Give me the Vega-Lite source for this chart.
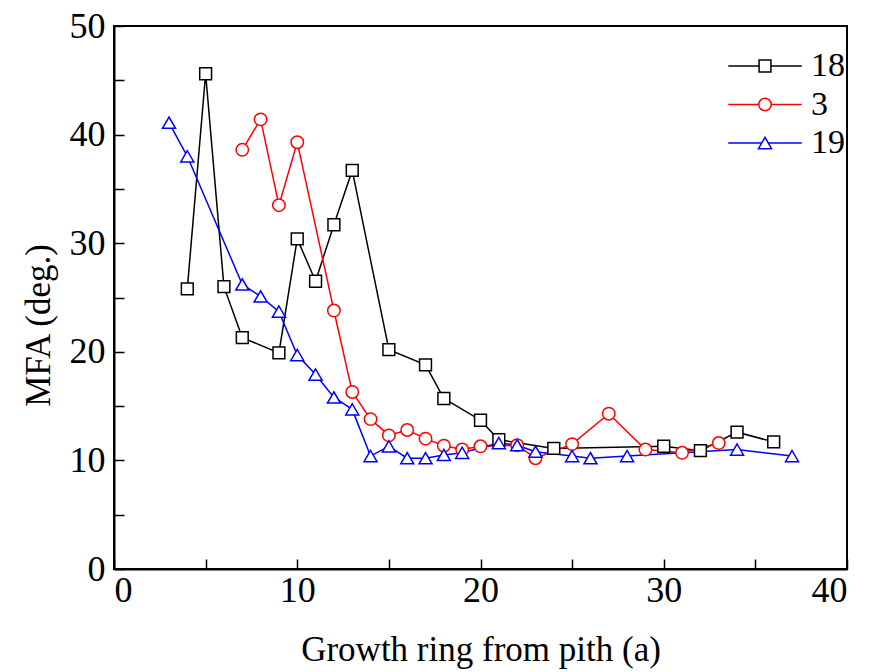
{
  "$schema": "https://vega.github.io/schema/vega-lite/v6.json",
  "autosize": "none",
  "width": 733,
  "height": 543,
  "padding": {"left": 114, "top": 26, "right": 34, "bottom": 103},
  "background": "white",
  "data": {"values": [
    {"s":"18","x":4,"y":25.8},{"s":"18","x":5,"y":45.6},{"s":"18","x":6,"y":26.0},{"s":"18","x":7,"y":21.3},{"s":"18","x":9,"y":19.9},{"s":"18","x":10,"y":30.4},{"s":"18","x":11,"y":26.5},{"s":"18","x":12,"y":31.7},{"s":"18","x":13,"y":36.7},{"s":"18","x":15,"y":20.2},{"s":"18","x":17,"y":18.8},{"s":"18","x":18,"y":15.7},{"s":"18","x":20,"y":13.7},{"s":"18","x":21,"y":11.9},{"s":"18","x":24,"y":11.1},{"s":"18","x":30,"y":11.3},{"s":"18","x":32,"y":10.9},{"s":"18","x":34,"y":12.6},{"s":"18","x":36,"y":11.7},
    {"s":"3","x":7,"y":38.6},{"s":"3","x":8,"y":41.4},{"s":"3","x":9,"y":33.5},{"s":"3","x":10,"y":39.3},{"s":"3","x":12,"y":23.8},{"s":"3","x":13,"y":16.3},{"s":"3","x":14,"y":13.8},{"s":"3","x":15,"y":12.3},{"s":"3","x":16,"y":12.8},{"s":"3","x":17,"y":12.0},{"s":"3","x":18,"y":11.35},{"s":"3","x":19,"y":11.0},{"s":"3","x":20,"y":11.3},{"s":"3","x":22,"y":11.4},{"s":"3","x":23,"y":10.2},{"s":"3","x":25,"y":11.5},{"s":"3","x":27,"y":14.3},{"s":"3","x":29,"y":11.0},{"s":"3","x":31,"y":10.7},{"s":"3","x":33,"y":11.6},
    {"s":"19","x":3,"y":41.1},{"s":"19","x":4,"y":38.0},{"s":"19","x":7,"y":26.2},{"s":"19","x":8,"y":25.1},{"s":"19","x":9,"y":23.7},{"s":"19","x":10,"y":19.7},{"s":"19","x":11,"y":17.9},{"s":"19","x":12,"y":15.8},{"s":"19","x":13,"y":14.7},{"s":"19","x":14,"y":10.4},{"s":"19","x":15,"y":11.3},{"s":"19","x":16,"y":10.2},{"s":"19","x":17,"y":10.2},{"s":"19","x":18,"y":10.5},{"s":"19","x":19,"y":10.7},{"s":"19","x":21,"y":11.6},{"s":"19","x":22,"y":11.4},{"s":"19","x":23,"y":10.8},{"s":"19","x":25,"y":10.4},{"s":"19","x":26,"y":10.2},{"s":"19","x":28,"y":10.4},{"s":"19","x":34,"y":11.0},{"s":"19","x":37,"y":10.4}
  ]},
  "layer": [
    {
      "mark": {"type": "line", "strokeWidth": 1.5},
      "encoding": {
        "x": {"field": "x", "type": "quantitative", "scale": {"domain": [0, 40], "nice": false},
              "axis": {"orient": "bottom", "title": "Growth ring from pith (a)", "values": [0,5,10,15,20,25,30,35,40],
                       "labelExpr": "datum.value % 10 === 0 ? datum.label : ''", "tickSize": -10, "labelPadding": 14,
                       "titleY": 91, "titleBaseline": "alphabetic"}},
        "y": {"field": "y", "type": "quantitative", "scale": {"domain": [0, 50], "nice": false},
              "axis": {"orient": "left", "title": "MFA (deg.)", "values": [0,5,10,15,20,25,30,35,40,45,50],
                       "labelExpr": "datum.value % 10 === 0 ? datum.label : ''", "tickSize": -10, "labelPadding": 19,
                       "titleX": -76, "titleY": 299, "titleAlign": "center", "titleBaseline": "middle"}},
        "color": {"field": "s", "type": "nominal", "scale": {"domain": ["18","3","19"], "range": ["black","red","blue"]},
                  "legend": {"legendX": 634, "legendY": 23, "symbolType": "M-6,0H6", "symbolSize": 150, "symbolStrokeWidth": 1.5,
                             "labelOffset": 29, "rowPadding": 4.5}}
      }
    },
    {
      "mark": {"type": "point", "filled": false, "fill": "white", "strokeWidth": 1.5, "opacity": 1},
      "encoding": {
        "x": {"field": "x", "type": "quantitative"},
        "y": {"field": "y", "type": "quantitative"},
        "stroke": {"field": "s", "type": "nominal", "sort": null, "scale": {"range": ["black","red","blue"]},
                   "legend": {"legendX": 634, "legendY": 23, "labelExpr": "''", "rowPadding": 4.5, "symbolFillColor": "white", "symbolStrokeWidth": 1.5}},
        "shape": {"field": "s", "type": "nominal", "sort": null, "scale": {"range": ["square","circle","triangle-up"]},
                  "legend": {"legendX": 634, "legendY": 23, "labelExpr": "''", "rowPadding": 4.5, "symbolFillColor": "white", "symbolStrokeWidth": 1.5}},
        "size": {"field": "s", "type": "nominal", "sort": null, "scale": {"range": [140,169,280]},
                 "legend": {"legendX": 634, "legendY": 23, "labelExpr": "''", "rowPadding": 4.5, "symbolFillColor": "white", "symbolStrokeWidth": 1.5}}
      }
    }
  ],
  "config": {
    "view": {"stroke": "black", "strokeWidth": 2},
    "axis": {"grid": false, "domainColor": "black", "domainWidth": 2, "tickColor": "black", "tickWidth": 1.5,
             "labelFont": "Liberation Serif", "labelFontSize": 36, "labelColor": "black",
             "titleFont": "Liberation Serif", "titleFontSize": 35, "titleFontWeight": "normal", "titleColor": "black"},
    "legend": {"title": null, "orient": "none", "padding": 0,
               "labelFont": "Liberation Serif", "labelFontSize": 34, "labelColor": "black"}
  }
}
